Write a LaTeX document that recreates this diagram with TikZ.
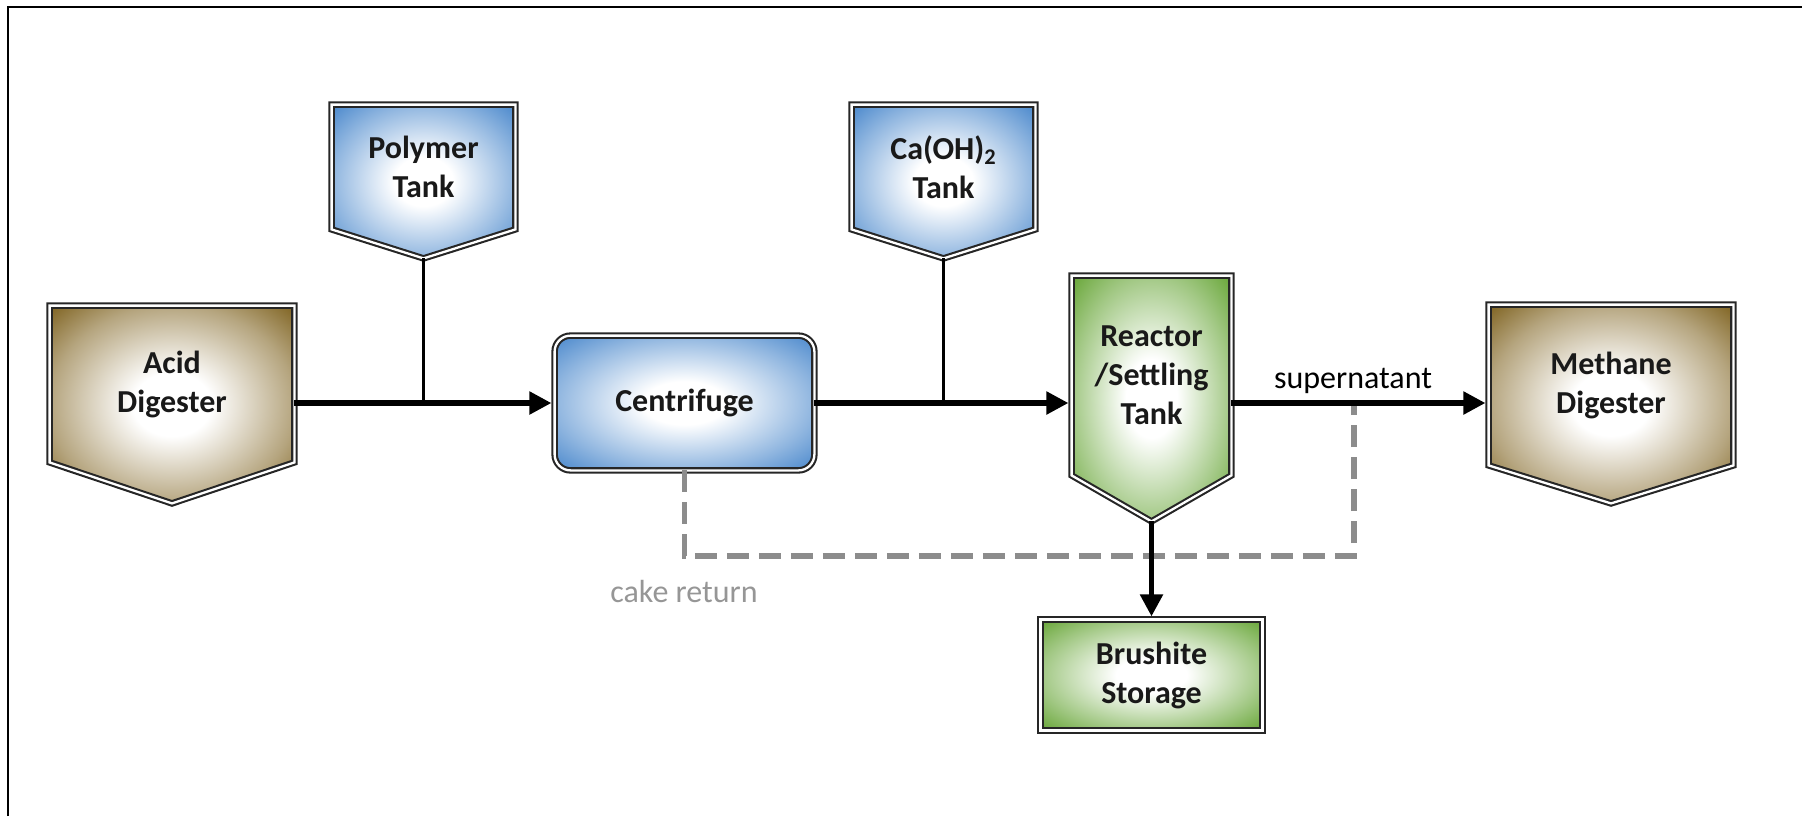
\documentclass[tikz,border=0pt]{standalone}
\usepackage{fontspec}
\setmainfont{Carlito}
\usetikzlibrary{arrows.meta,calc}
\pgfdeclarelayer{bg}
\pgfsetlayers{bg,main}
\definecolor{cblue}{RGB}{74,136,204}
\definecolor{cgold}{RGB}{128,100,34}
\definecolor{cgreen}{RGB}{104,166,56}
\definecolor{cgray}{RGB}{140,140,140}
\definecolor{clabel}{RGB}{150,150,150}
\definecolor{ctext}{RGB}{25,25,25}
\colorlet{cbluem}{cblue!62}
\colorlet{cgoldm}{cgold!58}
\colorlet{cgreenm}{cgreen!62}
\pgfdeclareradialshading{glowblue}{\pgfpoint{0bp}{0bp}}{color(0bp)=(white); color(8bp)=(white); color(25bp)=(cbluem); color(35bp)=(cblue); color(50bp)=(cblue)}
\pgfdeclareradialshading{glowgold}{\pgfpoint{0bp}{0bp}}{color(0bp)=(white); color(8bp)=(white); color(25bp)=(cgoldm); color(35bp)=(cgold); color(50bp)=(cgold)}
\pgfdeclareradialshading{glowgreen}{\pgfpoint{0bp}{0bp}}{color(0bp)=(white); color(8bp)=(white); color(25bp)=(cgreenm); color(35bp)=(cgreen); color(50bp)=(cgreen)}
\tikzset{
  unit/.style={inner sep=0pt, align=center, text=ctext,
    font=\bfseries\fontsize{16}{19.5}\selectfont},
  dbl/.style={draw=black!85, line width=1.05pt, double=white, double distance=1.15pt},
  flow/.style={line width=2.6pt, shorten >=1.6pt, -{Triangle[length=11pt,width=11pt]}},
  feed/.style={line width=1.3pt},
  ret/.style={draw=cgray, line width=2.6pt, dash pattern=on 11pt off 5pt},
  lab/.style={font=\fontsize{16}{19.5}\selectfont, inner sep=0pt},
  frame/.style={line width=1.3pt, draw=black}
}
\begin{document}
\begin{tikzpicture}[x=0.5pt,y=-0.5pt]
\useasboundingbox (0,0) rectangle (1802,816);
\draw[frame] (8,816) |- (1802,7);

% units
\node[unit, minimum width=122pt, minimum height=78pt] (acid) at (172,384) {Acid\\Digester};
\node[unit, minimum width=91.5pt, minimum height=62pt] (poly) at (423.5,167) {Polymer\\Tank};
\node[unit, minimum width=129.5pt, minimum height=67pt] (cent) at (684.5,403) {Centrifuge};
\node[unit, minimum width=91.5pt, minimum height=62pt] (ca) at (943.5,167) {Ca(OH)\textsubscript{2}\\Tank};
\node[unit, minimum width=79.5pt, minimum height=99.5pt] (reac) at (1151.5,375.5) {Reactor\\/Settling\\Tank};
\node[unit, minimum width=122pt, minimum height=80pt] (meth) at (1611,385) {Methane\\Digester};
\node[unit, minimum width=110.5pt, minimum height=55pt] (brush) at (1151.5,675) {Brushite\\Storage};

\coordinate (acidtip) at ([yshift=-20.5pt]acid.south);
\coordinate (polytip) at ([yshift=-14.5pt]poly.south);
\coordinate (catip) at ([yshift=-14.5pt]ca.south);
\coordinate (reactip) at ([yshift=-23pt]reac.south);
\coordinate (methtip) at ([yshift=-19pt]meth.south);
\coordinate (ret) at (1354,403);
\coordinate (retc) at (1354,556);

\begin{pgfonlayer}{bg}
\shadedraw[dbl, shading=glowgold] (acid.north west) -- (acid.north east) -- (acid.south east) -- (acidtip) -- (acid.south west) -- cycle;
\shadedraw[dbl, shading=glowblue] (poly.north west) -- (poly.north east) -- (poly.south east) -- (polytip) -- (poly.south west) -- cycle;
\shadedraw[dbl, shading=glowblue] (ca.north west) -- (ca.north east) -- (ca.south east) -- (catip) -- (ca.south west) -- cycle;
\shadedraw[dbl, shading=glowgreen] (reac.north west) -- (reac.north east) -- (reac.south east) -- (reactip) -- (reac.south west) -- cycle;
\shadedraw[dbl, shading=glowgold] (meth.north west) -- (meth.north east) -- (meth.south east) -- (methtip) -- (meth.south west) -- cycle;
\shadedraw[dbl, shading=glowblue, rounded corners=8pt] (cent.north west) rectangle (cent.south east);
\shadedraw[dbl, shading=glowgreen] (brush.north west) rectangle (brush.south east);
\draw[ret] (cent.south) |- (retc) -- (ret);
\end{pgfonlayer}

% connectors
\draw[flow] (cent.west -| acid.east) -- (cent.west);
\draw[feed] (polytip) -- (polytip |- cent.west);
\draw[flow] (cent.east) -- (cent.east -| reac.west);
\draw[feed] (catip) -- (catip |- cent.east);
\draw[flow] (cent.east -| reac.east) -- (cent.east -| meth.west);
\draw[flow] (reactip) -- (brush.north);

% labels
\node[lab, anchor=base] (suplab) at (1353,388) {supernatant};
\node[lab, anchor=base, text=clabel] (cakelab) at (684,602) {cake return};
\end{tikzpicture}
\end{document}
